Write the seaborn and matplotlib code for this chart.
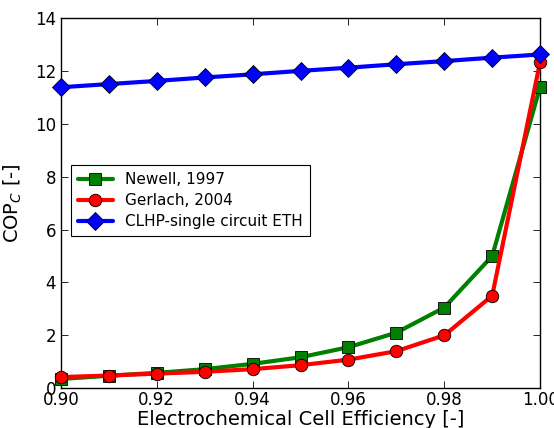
import matplotlib
matplotlib.use("Agg")
import matplotlib.pyplot as plt
import seaborn as sns
import pandas as pd

# Data
efficiency = [0.90, 0.91, 0.92, 0.93, 0.94, 0.95, 0.96, 0.97, 0.98, 0.99, 1.00]
newell = [0.35, 0.47, 0.58, 0.72, 0.92, 1.17, 1.55, 2.10, 3.05, 5.00, 11.40]
gerlach = [0.42, 0.48, 0.55, 0.62, 0.72, 0.87, 1.08, 1.40, 2.00, 3.50, 12.35]
clhp = [11.38, 11.50, 11.62, 11.75, 11.87, 12.00, 12.12, 12.25, 12.37, 12.50, 12.62]

series = [
    ("Newell, 1997", newell, "green", "s"),
    ("Gerlach, 2004", gerlach, "red", "o"),
    ("CLHP-single circuit ETH", clhp, "blue", "D"),
]

sns.set_style("white")
plt.rcParams["font.family"] = ["DejaVu Sans"]
plt.rcParams["xtick.direction"] = "in"
plt.rcParams["ytick.direction"] = "in"
plt.rcParams["text.color"] = "black"
plt.rcParams["axes.labelcolor"] = "black"
plt.rcParams["xtick.color"] = "black"
plt.rcParams["ytick.color"] = "black"

fig, ax = plt.subplots(figsize=(5.54, 4.28), dpi=100)
fig.subplots_adjust(left=0.11, right=0.975, top=0.958, bottom=0.093)

for name, vals, color, marker in series:
    df = pd.DataFrame({"eff": efficiency, "cop": vals})
    sns.lineplot(data=df, x="eff", y="cop", ax=ax, color=color, marker=marker,
                 markersize=9, linewidth=3, markeredgecolor="black",
                 markeredgewidth=0.6, label=name, clip_on=False, zorder=3)

ax.set_xlim(0.90, 1.00)
ax.set_ylim(0, 14)
ax.set_xticks([0.90, 0.92, 0.94, 0.96, 0.98, 1.00])
ax.set_xticklabels(["0.90", "0.92", "0.94", "0.96", "0.98", "1.00"])
ax.set_yticks(range(0, 15, 2))
ax.tick_params(axis="both", labelsize=12, length=5, top=True, right=True,
               bottom=True, left=True, direction="in", width=0.6)
ax.tick_params(axis="x", pad=2)
for s in ax.spines.values():
    s.set_color("black")
    s.set_linewidth(1.0)

ax.set_xlabel("Electrochemical Cell Efficiency [-]", fontsize=14, labelpad=1)
ax.set_ylabel("COP$_C$ [-]", fontsize=14, labelpad=8)

leg = ax.legend(loc="lower left", bbox_to_anchor=(0.005, 0.39), fontsize=11,
                fancybox=False, framealpha=1, edgecolor="black",
                handlelength=2.3, borderpad=0.45, labelspacing=0.4)
leg.get_frame().set_linewidth(0.8)

fig.savefig("out.png", dpi=100)
